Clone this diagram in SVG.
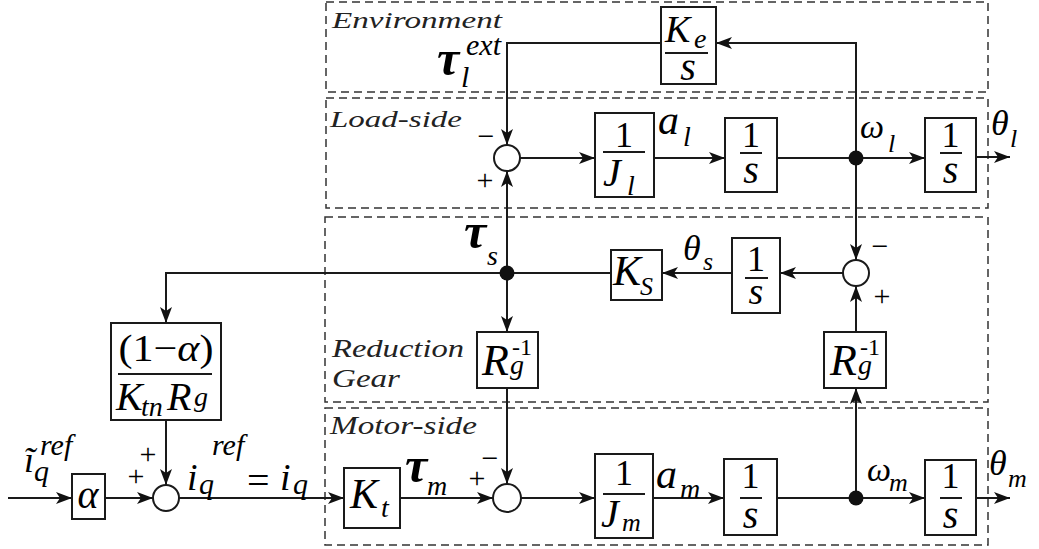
<svg xmlns="http://www.w3.org/2000/svg" width="1039" height="549" viewBox="0 0 1039 549" id="diagram">
<style>
#diagram text{font-family:'Liberation Serif','Times New Roman',serif !important}
.region{fill:none;stroke:#333;stroke-width:1.5;stroke-dasharray:8,5}
.blk{fill:#fff;stroke:#1a1a1a;stroke-width:2}
.bar{stroke:#1a1a1a;stroke-width:2}
.sum{fill:#fff;stroke:#1a1a1a;stroke-width:2}
.dot{fill:#111}
.arr{fill:none;stroke:#1a1a1a;stroke-width:2;marker-end:url(#ah)}
</style>
<defs>
<marker id="ah" markerUnits="userSpaceOnUse" markerWidth="17" markerHeight="12" refX="16" refY="6" orient="auto">
<path d="M0,0 L16,6 L0,12 L4,6 z" fill="#111"/>
</marker>
</defs>
<rect width="1039" height="549" fill="#fff"/>

<g id="regions">
<rect class="region" x="326" y="2" width="662" height="90"/>
<rect class="region" x="326" y="98" width="662" height="110"/>
<rect class="region" x="325" y="217" width="663" height="185"/>
<rect class="region" x="325" y="408" width="663" height="137"/>
<text x="332" y="28" font-size="23" style="font-family:'Liberation Serif',serif !important" font-style="italic" fill="#222" textLength="170" lengthAdjust="spacingAndGlyphs">Environment</text>
<text x="330" y="127" font-size="23" style="font-family:'Liberation Serif',serif !important" font-style="italic" fill="#222" textLength="132" lengthAdjust="spacingAndGlyphs">Load-side</text>
<text x="332" y="357" font-size="25" style="font-family:'Liberation Serif',serif !important" font-style="italic" fill="#222" textLength="132" lengthAdjust="spacingAndGlyphs">Reduction</text>
<text x="332" y="387" font-size="25" style="font-family:'Liberation Serif',serif !important" font-style="italic" fill="#222" textLength="68" lengthAdjust="spacingAndGlyphs">Gear</text>
<text x="330" y="434" font-size="25" style="font-family:'Liberation Serif',serif !important" font-style="italic" fill="#222" textLength="147" lengthAdjust="spacingAndGlyphs">Motor-side</text>
</g>

<g id="connectors">
<path class="arr" d="M8,498 H72"/>
<path class="arr" d="M105,498 H153"/>
<path class="arr" d="M179,498 H344"/>
<path class="arr" d="M400,498 H493"/>
<path class="arr" d="M521,498 H595"/>
<path class="arr" d="M653,498 H724"/>
<path class="arr" d="M777,498 H925"/>
<path class="arr" d="M976,498 H1010"/>
<path class="arr" d="M856,498 V388"/>
<path class="arr" d="M856,332 V286"/>
<path class="arr" d="M843,273 H780"/>
<path class="arr" d="M732,273 H662"/>
<path class="arr" d="M611,273 H166 V323"/>
<path class="arr" d="M507,273 V332"/>
<path class="arr" d="M507,388 V484"/>
<path class="arr" d="M507,273 V171"/>
<path class="arr" d="M166,420 V485"/>
<path class="arr" d="M520,158 H595"/>
<path class="arr" d="M654,158 H725"/>
<path class="arr" d="M777,158 H925"/>
<path class="arr" d="M976,157 H1010"/>
<path class="arr" d="M856,158 V260"/>
<path class="arr" d="M856,158 V43 H716"/>
<path class="arr" d="M661,43 H507 V145"/>
<circle class="dot" cx="856" cy="158" r="7.5"/>
<circle class="dot" cx="507" cy="273" r="7.5"/>
<circle class="dot" cx="856" cy="498" r="7.5"/>
</g>

<g id="env-Ke">
<rect class="blk" x="661" y="7" width="55" height="77"/>
<text x="665" y="42" font-size="38" style="font-family:'Liberation Serif',serif !important" font-style="italic">K</text>
<text x="694" y="48" font-size="28" style="font-family:'Liberation Serif',serif !important" font-style="italic">e</text>
<line class="bar" x1="665" y1="53" x2="708" y2="53"/>
<text x="688" y="80" font-size="40" style="font-family:'Liberation Serif',serif !important" font-style="italic" text-anchor="middle">s</text>
</g>

<g id="label-tau-ext">
<text x="437" y="75" font-size="50" style="font-family:'Liberation Serif',serif !important" font-style="italic" font-weight="bold">τ</text>
<text x="466" y="55" font-size="30" style="font-family:'Liberation Serif',serif !important" font-style="italic">ext</text>
<text x="461" y="87" font-size="30" style="font-family:'Liberation Serif',serif !important" font-style="italic">l</text>
</g>

<g id="sum-load">
<circle class="sum" cx="507" cy="158" r="13"/>
<text x="486" y="146" font-size="30" style="font-family:'Liberation Serif',serif !important" text-anchor="middle">−</text>
<text x="485" y="190" font-size="30" style="font-family:'Liberation Serif',serif !important" text-anchor="middle">+</text>
</g>

<g id="Jl">
<rect class="blk" x="595" y="113" width="59" height="84"/>
<text x="624" y="147" font-size="36" style="font-family:'Liberation Serif',serif !important" text-anchor="middle">1</text>
<line class="bar" x1="603" y1="152" x2="645" y2="152"/>
<text x="603" y="186" font-size="40" style="font-family:'Liberation Serif',serif !important" font-style="italic">J</text>
<text x="627" y="195" font-size="28" style="font-family:'Liberation Serif',serif !important" font-style="italic">l</text>
</g>

<g id="label-al">
<text x="658" y="134" font-size="42" style="font-family:'Liberation Serif',serif !important" font-style="italic">a</text>
<text x="683" y="146" font-size="28" style="font-family:'Liberation Serif',serif !important" font-style="italic">l</text>
</g>

<g id="int-load1">
<rect class="blk" x="725" y="118" width="52" height="74"/>
<text x="751" y="147" font-size="36" style="font-family:'Liberation Serif',serif !important" text-anchor="middle">1</text>
<line class="bar" x1="740" y1="153" x2="762" y2="153"/>
<text x="751" y="183" font-size="40" style="font-family:'Liberation Serif',serif !important" font-style="italic" text-anchor="middle">s</text>
</g>

<g id="label-wl">
<text x="860" y="138" font-size="34" style="font-family:'Liberation Serif',serif !important" font-style="italic">ω</text>
<text x="888" y="152" font-size="26" style="font-family:'Liberation Serif',serif !important" font-style="italic">l</text>
</g>

<g id="int-load2">
<rect class="blk" x="925" y="118" width="51" height="74"/>
<text x="950.5" y="147" font-size="36" style="font-family:'Liberation Serif',serif !important" text-anchor="middle">1</text>
<line class="bar" x1="940" y1="153" x2="962" y2="153"/>
<text x="950.5" y="183" font-size="40" style="font-family:'Liberation Serif',serif !important" font-style="italic" text-anchor="middle">s</text>
</g>

<g id="label-thl">
<text x="991" y="135" font-size="36" style="font-family:'Liberation Serif',serif !important" font-style="italic">θ</text>
<text x="1010" y="147" font-size="26" style="font-family:'Liberation Serif',serif !important" font-style="italic">l</text>
</g>

<g id="label-taus">
<text x="464" y="248" font-size="50" style="font-family:'Liberation Serif',serif !important" font-style="italic" font-weight="bold">τ</text>
<text x="487" y="265" font-size="28" style="font-family:'Liberation Serif',serif !important" font-style="italic">s</text>
</g>

<g id="Ks">
<rect class="blk" x="611" y="250" width="51" height="50"/>
<text x="613" y="285" font-size="42" style="font-family:'Liberation Serif',serif !important" font-style="italic">K</text>
<text x="640" y="295" font-size="26" style="font-family:'Liberation Serif',serif !important" font-style="italic">S</text>
</g>

<g id="label-ths">
<text x="683" y="260" font-size="36" style="font-family:'Liberation Serif',serif !important" font-style="italic">θ</text>
<text x="703" y="270" font-size="26" style="font-family:'Liberation Serif',serif !important" font-style="italic">s</text>
</g>

<g id="int-mid">
<rect class="blk" x="732" y="238" width="48" height="75"/>
<text x="756" y="271" font-size="36" style="font-family:'Liberation Serif',serif !important" text-anchor="middle">1</text>
<line class="bar" x1="745" y1="278" x2="768" y2="278"/>
<text x="756" y="304" font-size="38" style="font-family:'Liberation Serif',serif !important" font-style="italic" text-anchor="middle">s</text>
</g>

<g id="sum-mid">
<circle class="sum" cx="856" cy="273" r="13"/>
<text x="880" y="256" font-size="30" style="font-family:'Liberation Serif',serif !important" text-anchor="middle">−</text>
<text x="882" y="306" font-size="30" style="font-family:'Liberation Serif',serif !important" text-anchor="middle">+</text>
</g>

<g id="Rg-right">
<rect class="blk" x="824" y="332" width="62" height="56"/>
<text x="830" y="375" font-size="44" style="font-family:'Liberation Serif',serif !important" font-style="italic">R</text>
<text x="860" y="355" font-size="24" style="font-family:'Liberation Serif',serif !important">-1</text>
<text x="858" y="374" font-size="28" style="font-family:'Liberation Serif',serif !important" font-style="italic">g</text>
</g>

<g id="Rg-left">
<rect class="blk" x="477" y="332" width="61" height="56"/>
<text x="482" y="375" font-size="44" style="font-family:'Liberation Serif',serif !important" font-style="italic">R</text>
<text x="512" y="355" font-size="24" style="font-family:'Liberation Serif',serif !important">-1</text>
<text x="510" y="374" font-size="28" style="font-family:'Liberation Serif',serif !important" font-style="italic">g</text>
</g>

<g id="ff-gain">
<rect class="blk" x="111" y="323" width="110" height="97"/>
<text x="166" y="361" font-size="38" style="font-family:'Liberation Serif',serif !important" text-anchor="middle" textLength="95" lengthAdjust="spacingAndGlyphs">(1−<tspan font-style="italic">α</tspan>)</text>
<line class="bar" x1="118" y1="374" x2="212" y2="374"/>
<text x="116" y="410" font-size="40" style="font-family:'Liberation Serif',serif !important" font-style="italic">K</text>
<text x="141" y="416" font-size="28" style="font-family:'Liberation Serif',serif !important" font-style="italic">tn</text>
<text x="167" y="410" font-size="40" style="font-family:'Liberation Serif',serif !important" font-style="italic">R</text>
<text x="194" y="406" font-size="28" style="font-family:'Liberation Serif',serif !important" font-style="italic">g</text>
</g>

<g id="label-iq-tilde">
<text x="24" y="472" font-size="36" style="font-family:'Liberation Serif',serif !important" font-style="italic">ĩ</text>
<text x="40" y="455" font-size="30" style="font-family:'Liberation Serif',serif !important" font-style="italic">ref</text>
<text x="34" y="481" font-size="30" style="font-family:'Liberation Serif',serif !important" font-style="italic">q</text>
</g>

<g id="alpha">
<rect class="blk" x="72" y="474" width="33" height="45"/>
<text x="88" y="508" font-size="40" style="font-family:'Liberation Serif',serif !important" font-style="italic" text-anchor="middle">α</text>
</g>

<g id="sum-ref">
<circle class="sum" cx="166" cy="498" r="13"/>
<text x="136" y="486" font-size="30" style="font-family:'Liberation Serif',serif !important" text-anchor="middle">+</text>
<text x="148" y="464" font-size="30" style="font-family:'Liberation Serif',serif !important" text-anchor="middle">+</text>
</g>

<g id="label-iq">
<text x="187" y="490" font-size="38" style="font-family:'Liberation Serif',serif !important" font-style="italic">i</text>
<text x="212" y="455" font-size="30" style="font-family:'Liberation Serif',serif !important" font-style="italic">ref</text>
<text x="199" y="494" font-size="30" style="font-family:'Liberation Serif',serif !important" font-style="italic">q</text>
<text x="247" y="494" font-size="40" style="font-family:'Liberation Serif',serif !important">=</text>
<text x="280" y="490" font-size="38" style="font-family:'Liberation Serif',serif !important" font-style="italic">i</text>
<text x="293" y="494" font-size="30" style="font-family:'Liberation Serif',serif !important" font-style="italic">q</text>
</g>

<g id="Kt">
<rect class="blk" x="344" y="468" width="56" height="60"/>
<text x="350" y="508" font-size="42" style="font-family:'Liberation Serif',serif !important" font-style="italic">K</text>
<text x="381" y="517" font-size="28" style="font-family:'Liberation Serif',serif !important" font-style="italic">t</text>
</g>

<g id="label-taum">
<text x="405" y="482" font-size="50" style="font-family:'Liberation Serif',serif !important" font-style="italic" font-weight="bold">τ</text>
<text x="427" y="495" font-size="28" style="font-family:'Liberation Serif',serif !important" font-style="italic">m</text>
</g>

<g id="sum-motor">
<circle class="sum" cx="507" cy="498" r="14"/>
<text x="477" y="488" font-size="30" style="font-family:'Liberation Serif',serif !important" text-anchor="middle">+</text>
<text x="490" y="468" font-size="30" style="font-family:'Liberation Serif',serif !important" text-anchor="middle">−</text>
</g>

<g id="Jm">
<rect class="blk" x="595" y="454" width="58" height="84"/>
<text x="624" y="485" font-size="36" style="font-family:'Liberation Serif',serif !important" text-anchor="middle">1</text>
<line class="bar" x1="603" y1="494" x2="645" y2="494"/>
<text x="601" y="527" font-size="40" style="font-family:'Liberation Serif',serif !important" font-style="italic">J</text>
<text x="622" y="531" font-size="26" style="font-family:'Liberation Serif',serif !important" font-style="italic">m</text>
</g>

<g id="label-am">
<text x="656" y="488" font-size="42" style="font-family:'Liberation Serif',serif !important" font-style="italic">a</text>
<text x="680" y="498" font-size="28" style="font-family:'Liberation Serif',serif !important" font-style="italic">m</text>
</g>

<g id="int-motor1">
<rect class="blk" x="724" y="459" width="53" height="76"/>
<text x="750.5" y="488" font-size="36" style="font-family:'Liberation Serif',serif !important" text-anchor="middle">1</text>
<line class="bar" x1="740" y1="498" x2="762" y2="498"/>
<text x="750.5" y="528" font-size="40" style="font-family:'Liberation Serif',serif !important" font-style="italic" text-anchor="middle">s</text>
</g>

<g id="label-wm">
<text x="867" y="481" font-size="34" style="font-family:'Liberation Serif',serif !important" font-style="italic">ω</text>
<text x="889" y="491" font-size="26" style="font-family:'Liberation Serif',serif !important" font-style="italic">m</text>
</g>

<g id="int-motor2">
<rect class="blk" x="925" y="460" width="51" height="75"/>
<text x="950.5" y="488" font-size="36" style="font-family:'Liberation Serif',serif !important" text-anchor="middle">1</text>
<line class="bar" x1="940" y1="498" x2="962" y2="498"/>
<text x="950.5" y="528" font-size="40" style="font-family:'Liberation Serif',serif !important" font-style="italic" text-anchor="middle">s</text>
</g>

<g id="label-thm">
<text x="989" y="475" font-size="36" style="font-family:'Liberation Serif',serif !important" font-style="italic">θ</text>
<text x="1008" y="487" font-size="26" style="font-family:'Liberation Serif',serif !important" font-style="italic">m</text>
</g>
</svg>
